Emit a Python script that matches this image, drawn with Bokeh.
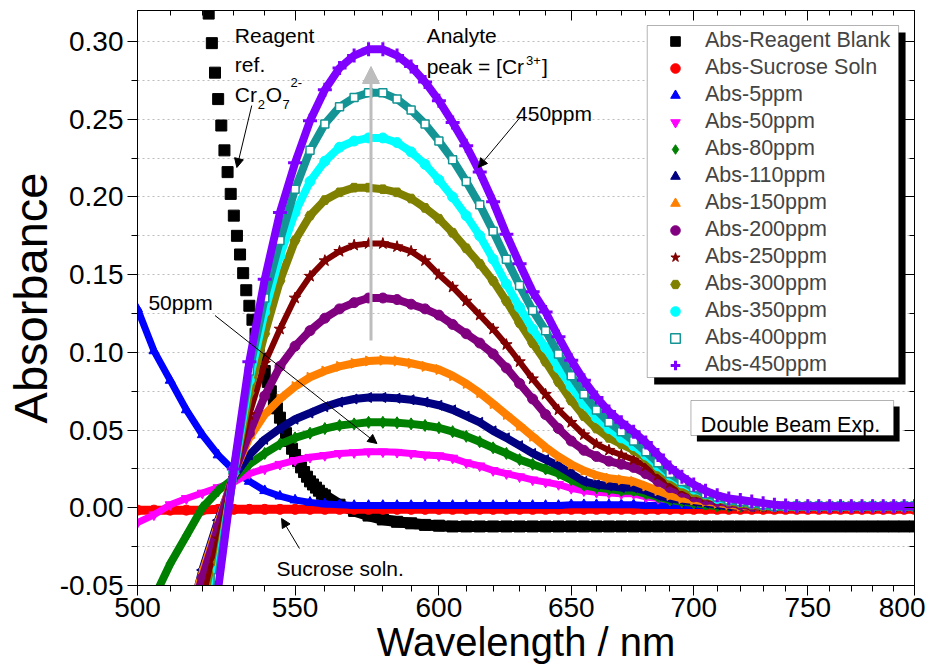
import math
from bokeh.plotting import figure
from bokeh.models import (ColumnDataSource, Range1d, FixedTicker, LinearAxis, LogAxis, Legend,
                          LegendItem, Label, Arrow, NormalHead, BoxAnnotation,
                          NumeralTickFormatter, CustomJSTickFormatter)
from bokeh.embed import file_html
from bokeh.resources import INLINE

N = None

# ---------------- data ----------------
wavelength_nm = list(range(500, 805, 5))          # 500 ... 800, 5 nm steps

blank_steep_nm = list(range(521, 560))            # reagent blank, 1 nm steps on steep edge
blank_steep_abs = [0.338, 0.318, 0.299, 0.280, 0.263, 0.246, 0.230, 0.216, 0.202, 0.188,
                   0.175, 0.163, 0.151, 0.140, 0.130, 0.121, 0.112, 0.104, 0.096, 0.088,
                   0.081, 0.075, 0.069, 0.064, 0.058, 0.053, 0.048, 0.043, 0.038, 0.034,
                   0.030, 0.026, 0.023, 0.020, 0.017, 0.015, 0.013, 0.011, 0.009]
blank_tail_nm = list(range(560, 805, 5))
blank_tail_abs = [0.008, 0.002, -0.002, -0.005, -0.0075, -0.009, -0.010, -0.011, -0.0115, -0.012,
                  -0.012, -0.012, -0.012, -0.012, -0.012, -0.012, -0.012, -0.012, -0.012, -0.012,
                  -0.012, -0.012, -0.012, -0.012, -0.012, -0.012, -0.012, -0.012, -0.012, -0.012,
                  -0.012, -0.012, -0.012, -0.012, -0.012, -0.012, -0.012, -0.012, -0.012, -0.012,
                  -0.012, -0.012, -0.012, -0.012, -0.012, -0.012, -0.012, -0.012, -0.012]

abs_sucrose = [-0.0015, -0.0015, -0.0015, -0.0015, -0.0015, -0.001, -0.001, -0.001, -0.001, -0.001,
               -0.001, -0.001, -0.001, -0.001, -0.001, -0.001, -0.001, -0.001, -0.001, -0.001,
               -0.001, -0.001, -0.001, -0.001, -0.001, -0.001, -0.001, -0.001, -0.001, -0.001,
               -0.001, -0.001, -0.001, -0.001, -0.001, -0.001, -0.001, -0.001, -0.001, -0.001,
               -0.001, -0.001, -0.001, -0.001, -0.001, -0.001, -0.001, -0.001, -0.001, -0.001,
               -0.001, -0.001, -0.001, -0.001, -0.001, -0.001, -0.001, -0.001, -0.001, -0.001,
               -0.001]
abs_5ppm = [0.128, 0.101, 0.082, 0.063, 0.047, 0.034, 0.024, 0.017, 0.011, 0.0075,
            0.005, 0.0035, 0.0025, 0.002, 0.0015, 0.0015, 0.0015, 0.0015, 0.0015, 0.0015,
            0.0015, 0.0015, 0.0015, 0.0015, 0.0015, 0.0015, 0.0015, 0.0015, 0.0015, 0.0015,
            0.002, 0.002, 0.002, 0.002, 0.002, 0.002, 0.0015, 0.0015, 0.0015, 0.0015,
            0.0015, 0.0015, 0.0015, 0.0015, 0.0015, 0.0015, 0.0015, 0.0015, 0.0015, 0.0015,
            0.0015, 0.0015, 0.0015, 0.0015, 0.0015, 0.0015, 0.0015, 0.0015, 0.0015, 0.0015,
            0.0015]
abs_50ppm = [-0.0095, -0.0045, 0.002, 0.006, 0.0095, 0.013, 0.0165, 0.022, 0.025, 0.028,
             0.0305, 0.0325, 0.0337, 0.035, 0.0355, 0.036, 0.036, 0.0357, 0.035, 0.034,
             0.0335, 0.032, 0.029, 0.027, 0.024, 0.022, 0.020, 0.018, 0.0165, 0.015,
             0.0125, 0.011, 0.010, 0.0095, 0.009, 0.009, 0.007, 0.006, 0.005, 0.004,
             0.003, 0.002, 0.001, 0.001, 0.001, 0.001, 0.001, 0.001, 0.001, 0.001,
             0.001, 0.001, 0.001, 0.001, 0.001, 0.001, 0.001, 0.001, 0.001, 0.001,
             0.001]
abs_80ppm = [-0.085, -0.058, -0.036, -0.018, 0.000, 0.011, 0.019, 0.028, 0.035, 0.041,
             0.045, 0.048, 0.051, 0.053, 0.054, 0.055, 0.055, 0.0547, 0.054, 0.053,
             0.0515, 0.049, 0.046, 0.0425, 0.0386, 0.035, 0.031, 0.028, 0.025, 0.022,
             0.018, 0.0145, 0.013, 0.012, 0.011, 0.011, 0.009, 0.007, 0.005, 0.004,
             0.003, 0.002, 0.001, 0.001, 0.001, 0.001, 0.001, 0.001, 0.001, 0.001,
             0.001, 0.001, 0.001, 0.001, 0.001, 0.001, 0.001, 0.001, 0.001, 0.001,
             0.001]
abs_110ppm = [N, N, N, -0.080, -0.040, -0.008, 0.020, 0.034, 0.044, 0.051,
              0.057, 0.061, 0.065, 0.068, 0.070, 0.071, 0.071, 0.0705, 0.0695, 0.068,
              0.066, 0.063, 0.059, 0.055, 0.0495, 0.045, 0.040, 0.035, 0.031, 0.027,
              0.022, 0.017, 0.015, 0.014, 0.013, 0.013, 0.011, 0.008, 0.006, 0.005,
              0.004, 0.003, 0.002, 0.001, 0.001, 0.001, 0.001, 0.001, 0.001, 0.001,
              0.001, 0.001, 0.001, 0.001, 0.001, 0.001, 0.001, 0.001, 0.001, 0.001,
              0.001]
abs_150ppm = [N, N, N, -0.075, -0.042, -0.010, 0.022, 0.045, 0.060, 0.070,
              0.078, 0.084, 0.088, 0.091, 0.093, 0.0945, 0.095, 0.0945, 0.093, 0.091,
              0.089, 0.085, 0.080, 0.074, 0.067, 0.060, 0.053, 0.046, 0.039, 0.033,
              0.028, 0.024, 0.021, 0.019, 0.018, 0.017, 0.014, 0.011, 0.008, 0.006,
              0.005, 0.004, 0.003, 0.002, 0.001, 0.001, 0.001, 0.001, 0.001, 0.001,
              0.001, 0.001, 0.001, 0.001, 0.001, 0.001, 0.001, 0.001, 0.001, 0.001,
              0.001]
abs_200ppm = [N, N, N, -0.078, -0.045, -0.012, 0.022, 0.048, 0.072, 0.091,
              0.104, 0.114, 0.122, 0.128, 0.132, 0.135, 0.135, 0.134, 0.131, 0.128,
              0.124, 0.118, 0.112, 0.106, 0.099, 0.090, 0.080, 0.070, 0.060, 0.051,
              0.043, 0.037, 0.033, 0.030, 0.028, 0.026, 0.022, 0.017, 0.013, 0.010,
              0.007, 0.005, 0.004, 0.003, 0.002, 0.001, 0.001, 0.001, 0.001, 0.001,
              0.001, 0.001, 0.001, 0.001, 0.001, 0.001, 0.001, 0.001, 0.001, 0.001,
              0.001]
abs_250ppm = [N, N, N, N, -0.060, -0.020, 0.022, 0.060, 0.093, 0.115,
              0.135, 0.149, 0.159, 0.165, 0.169, 0.170, 0.170, 0.168, 0.165, 0.159,
              0.150, 0.142, 0.133, 0.124, 0.115, 0.105, 0.094, 0.083, 0.073, 0.063,
              0.055, 0.047, 0.041, 0.037, 0.034, 0.031, 0.027, 0.021, 0.016, 0.012,
              0.009, 0.007, 0.005, 0.004, 0.003, 0.002, 0.001, 0.001, 0.001, 0.001,
              0.001, 0.001, 0.001, 0.001, 0.001, 0.001, 0.001, 0.001, 0.001, 0.001,
              0.001]
abs_300ppm = [N, N, N, N, -0.080, -0.035, 0.022, 0.074, 0.112, 0.146,
              0.172, 0.188, 0.198, 0.203, 0.206, 0.206, 0.205, 0.203, 0.199, 0.193,
              0.186, 0.177, 0.167, 0.157, 0.146, 0.133, 0.119, 0.106, 0.094, 0.081,
              0.069, 0.059, 0.051, 0.045, 0.041, 0.037, 0.032, 0.025, 0.019, 0.014,
              0.010, 0.008, 0.006, 0.004, 0.003, 0.002, 0.001, 0.001, 0.001, 0.001,
              0.001, 0.001, 0.001, 0.001, 0.001, 0.001, 0.001, 0.001, 0.001, 0.001,
              0.001]
abs_350ppm = [N, N, N, N, -0.090, -0.040, 0.023, 0.082, 0.126, 0.162,
              0.190, 0.210, 0.223, 0.232, 0.236, 0.238, 0.238, 0.235, 0.229, 0.221,
              0.211, 0.200, 0.188, 0.175, 0.160, 0.144, 0.129, 0.115, 0.103, 0.090,
              0.078, 0.067, 0.058, 0.051, 0.045, 0.040, 0.034, 0.027, 0.021, 0.016,
              0.012, 0.009, 0.006, 0.005, 0.004, 0.003, 0.002, 0.001, 0.001, 0.001,
              0.001, 0.001, 0.001, 0.001, 0.001, 0.001, 0.001, 0.001, 0.001, 0.001,
              0.001]
abs_400ppm = [N, N, N, N, -0.100, -0.045, 0.024, 0.088, 0.135, 0.172,
              0.205, 0.230, 0.247, 0.258, 0.264, 0.267, 0.267, 0.263, 0.256, 0.247,
              0.236, 0.224, 0.210, 0.195, 0.178, 0.160, 0.143, 0.127, 0.114, 0.099,
              0.085, 0.073, 0.063, 0.055, 0.049, 0.043, 0.036, 0.029, 0.022, 0.017,
              0.013, 0.009, 0.007, 0.005, 0.004, 0.003, 0.002, 0.001, 0.001, 0.001,
              0.001, 0.001, 0.001, 0.001, 0.001, 0.001, 0.001, 0.001, 0.001, 0.001,
              0.001]
abs_450ppm = [N, N, N, N, -0.120, -0.052, 0.025, 0.094, 0.147, 0.190,
              0.222, 0.249, 0.269, 0.283, 0.291, 0.295, 0.295, 0.291, 0.284, 0.274,
              0.262, 0.248, 0.233, 0.216, 0.197, 0.176, 0.157, 0.139, 0.126, 0.110,
              0.095, 0.082, 0.071, 0.062, 0.055, 0.049, 0.042, 0.034, 0.026, 0.020,
              0.015, 0.011, 0.008, 0.006, 0.005, 0.004, 0.003, 0.002, 0.0015, 0.001,
              0.001, 0.001, 0.001, 0.001, 0.001, 0.001, 0.001, 0.001, 0.001, 0.001,
              0.001]

series_labels = ["Abs-Sucrose Soln", "Abs-5ppm", "Abs-50ppm", "Abs-80ppm", "Abs-110ppm",
                 "Abs-150ppm", "Abs-200ppm", "Abs-250ppm", "Abs-300ppm", "Abs-350ppm",
                 "Abs-400ppm", "Abs-450ppm"]
series_values = [abs_sucrose, abs_5ppm, abs_50ppm, abs_80ppm, abs_110ppm, abs_150ppm,
                 abs_200ppm, abs_250ppm, abs_300ppm, abs_350ppm, abs_400ppm, abs_450ppm]

x_major_ticks = [500, 550, 600, 650, 700, 750, 800]
x_minor_ticks = [510, 520, 530, 540, 560, 570, 580, 590, 610, 620, 630, 640, 660, 670, 680, 690,
                 710, 720, 730, 740, 760, 770, 780, 790]
y_major_ticks = [-0.05, 0.00, 0.05, 0.10, 0.15, 0.20, 0.25, 0.30]
y_minor_ticks = [-0.025, 0.025, 0.075, 0.125, 0.175, 0.225, 0.275]

# ---------------- styles ----------------
FONT = "Liberation Sans"
styles = [
    dict(color="#FF0000", marker="circle", size=10, lw=9, angle=0.0, fill="#FF0000", mlw=1),
    dict(color="#0000FF", marker="triangle", size=10, lw=7, angle=0.0, fill="#0000FF", mlw=1),
    dict(color="#FF00FF", marker="inverted_triangle", size=10, lw=7, angle=0.0, fill="#FF00FF", mlw=1),
    dict(color="#008000", marker="diamond", size=12, lw=8, angle=0.0, fill="#008000", mlw=1),
    dict(color="#000080", marker="triangle", size=10, lw=8, angle=math.pi / 2, fill="#000080", mlw=1),
    dict(color="#FF8000", marker="triangle", size=10, lw=8, angle=-math.pi / 2, fill="#FF8000", mlw=1),
    dict(color="#800080", marker="circle", size=10, lw=8, angle=0.0, fill="#800080", mlw=1),
    dict(color="#800000", marker="star", size=12, lw=6, angle=0.0, fill="#800000", mlw=1),
    dict(color="#808000", marker="hex", size=10, lw=8, angle=0.0, fill="#808000", mlw=1),
    dict(color="#00FFFF", marker="circle", size=10, lw=8, angle=0.0, fill="#00FFFF", mlw=1),
    dict(color="#149494", marker="square", size=8, lw=8, angle=0.0, fill="white", mlw=1.5),
    dict(color="#8000FF", marker="cross", size=14, lw=8, angle=0.0, fill="#8000FF", mlw=3),
]

# frame placement (page pixels) used only to place annotations
FL, FR, FT, FB = 132, 914, 10, 585
X0, X1, Y0, Y1 = 500.0, 800.0, -0.05, 0.32


def nm_at(px):
    return X0 * (X1 / X0) ** ((px - FL) / (FR - FL))


def ab_at(py):
    return Y1 - (py - FT) * (Y1 - Y0) / (FB - FT)


p = figure(width=925, height=666, x_axis_type="log",
           x_range=Range1d(X0, X1), y_range=Range1d(Y0, Y1),
           output_backend="svg", toolbar_location=None,
           min_border_left=FL, min_border_right=925 - FR, min_border_top=FT,
           min_border_bottom=666 - FB)
p.outline_line_color = "black"
p.outline_line_width = 1
p.background_fill_color = "white"
p.border_fill_color = "white"

p.xgrid.visible = False
p.ygrid.ticker = FixedTicker(ticks=y_major_ticks + y_minor_ticks)
p.ygrid.grid_line_color = "#BDBDBD"
p.ygrid.grid_line_dash = "2 3"
p.ygrid.grid_line_width = 1

xa = p.xaxis[0]
xa.ticker = FixedTicker(ticks=x_major_ticks, minor_ticks=x_minor_ticks)
xa.formatter = NumeralTickFormatter(format="0")
xa.axis_label = "Wavelength / nm"
xa.axis_label_text_font = FONT
xa.axis_label_text_font_size = "40px"
xa.axis_label_text_font_style = "normal"
xa.axis_label_standoff = 0
xa.major_label_text_font = FONT
xa.major_label_text_font_size = "28px"
xa.major_label_standoff = 2
xa.major_tick_out = 10
xa.major_tick_in = 0
xa.minor_tick_out = 6
xa.minor_tick_in = 0

ya = p.yaxis[0]
ya.ticker = FixedTicker(ticks=y_major_ticks, minor_ticks=y_minor_ticks)
ya.formatter = NumeralTickFormatter(format="0.00")
ya.axis_label = "Absorbance"
ya.axis_label_text_font = FONT
ya.axis_label_text_font_size = "47px"
ya.axis_label_text_font_style = "normal"
ya.axis_label_standoff = 0
ya.major_label_text_font = FONT
ya.major_label_text_font_size = "28px"
ya.major_label_standoff = 4
ya.major_tick_out = 10
ya.major_tick_in = 0
ya.minor_tick_out = 6
ya.minor_tick_in = 0

for ax in (xa, ya):
    ax.axis_line_color = "black"
    ax.major_tick_line_color = "black"
    ax.minor_tick_line_color = "black"
    ax.major_label_text_color = "black"
    ax.axis_label_text_color = "black"

top_axis = LogAxis(ticker=FixedTicker(ticks=x_major_ticks, minor_ticks=x_minor_ticks),
                   formatter=CustomJSTickFormatter(code="return ''"),
                   major_tick_in=10, major_tick_out=0,
                   minor_tick_in=5, minor_tick_out=0, major_label_standoff=0,
                   major_label_text_font_size="1px")
right_axis = LinearAxis(ticker=FixedTicker(ticks=y_major_ticks, minor_ticks=y_minor_ticks),
                        formatter=CustomJSTickFormatter(code="return ''"),
                        major_tick_in=10, major_tick_out=0,
                        minor_tick_in=5, minor_tick_out=0, major_label_standoff=0,
                        major_label_text_font_size="1px")
p.add_layout(top_axis, "above")
p.add_layout(right_axis, "right")

legend_items = []

# reagent blank: squares only on the steep edge, band on the flat tail
src_bs = ColumnDataSource(dict(x=blank_steep_nm, y=blank_steep_abs))
src_bt = ColumnDataSource(dict(x=blank_tail_nm, y=blank_tail_abs))
p.line("x", "y", source=src_bt, line_color="black", line_width=11)
r_blank = p.scatter("x", "y", source=src_bs, marker="square", size=11,
                    fill_color="black", line_color="black")
p.scatter("x", "y", source=src_bt, marker="square", size=11, fill_color="black", line_color="black")
legend_items.append(LegendItem(label="Abs-Reagent Blank", renderers=[r_blank]))

for lab, vals, st in zip(series_labels, series_values, styles):
    ys = [float("nan") if v is None else v for v in vals]
    src = ColumnDataSource(dict(x=wavelength_nm, y=ys))
    p.line("x", "y", source=src, line_color=st["color"], line_width=st["lw"])
    r = p.scatter("x", "y", source=src, marker=st["marker"], size=st["size"], angle=st["angle"],
                  fill_color=st["fill"], line_color=st["color"], line_width=st["mlw"])
    legend_items.append(LegendItem(label=lab, renderers=[r]))

# ---------------- annotations ----------------
def txt(px, py, s, size="21px"):
    p.add_layout(Label(x=nm_at(px), y=ab_at(py), text=s, text_font=FONT, text_font_size=size,
                       text_baseline="alphabetic", text_align="left", text_color="black"))


txt(230, 35, "Reagent")
txt(230, 64, "ref.")
txt(230, 94, "Cr")
txt(253, 104, "2", "13px")
txt(261, 94, "O")
txt(278, 104, "7", "13px")
txt(286, 82, "2-", "13px")
txt(423, 35, "Analyte")
txt(423, 66, "peak = [Cr")
txt(523, 60, "3+", "13px")
txt(539, 66, "]")
txt(513, 113, "450ppm")
txt(143, 302, "50ppm")
txt(272, 568, "Sucrose soln.")


def arrow(x0, y0, x1, y1, color="black", width=1, head=9):
    p.add_layout(Arrow(x_start=nm_at(x0), y_start=ab_at(y0), x_end=nm_at(x1), y_end=ab_at(y1),
                       line_color=color, line_width=width,
                       end=NormalHead(size=head, fill_color=color, line_color=color)))


arrow(367, 340, 367, 66, color="#BDBDBD", width=3, head=17)
arrow(247, 105, 232, 167)
arrow(517, 117, 475, 167)
arrow(210, 315, 373, 443)
arrow(295, 548, 277, 518)


def box(l, t, r, b, fill, line):
    p.add_layout(BoxAnnotation(left=nm_at(l), right=nm_at(r), top=ab_at(t), bottom=ab_at(b),
                               fill_color=fill, fill_alpha=1, line_color=line, line_width=1))


# Double Beam Exp. box with shadow
box(695, 406, 899, 441, "black", None)
box(689, 400, 893, 435, "white", "black")
txt(699, 424, "Double Beam Exp.", "21.5px")

# legend frame with shadow, legend itself drawn on top (transparent)
box(652, 32, 905, 384, "black", None)
box(645, 25, 898, 377, "white", "black")
legend = Legend(items=legend_items, location=(658 - FL, FB - 377), margin=0, padding=10,
                spacing=2, label_height=25, glyph_height=24, glyph_width=24, label_standoff=18,
                label_text_font=FONT, label_text_font_size="21.5px",
                border_line_color=None, background_fill_alpha=0)
p.add_layout(legend)

open("out.html", "w").write(file_html(p, INLINE))
